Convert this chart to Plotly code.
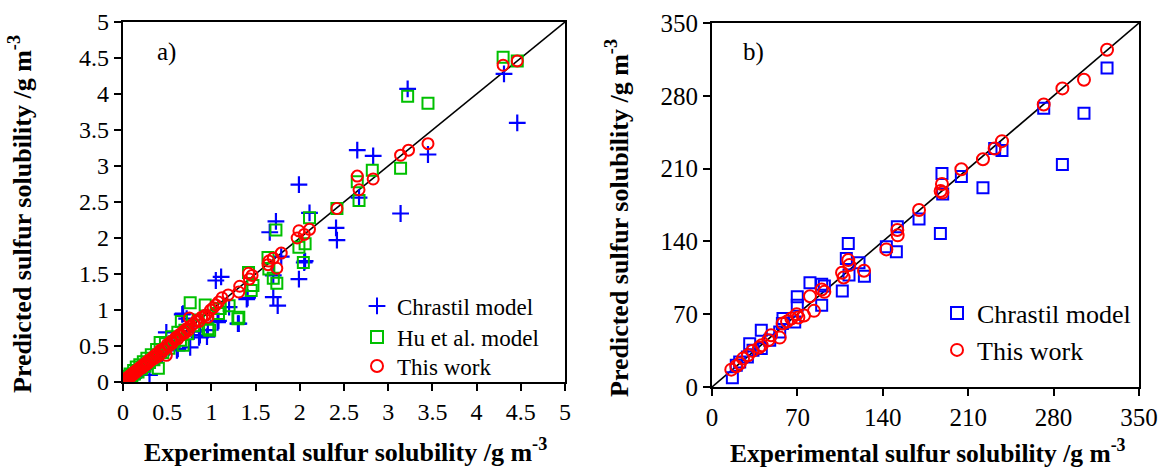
import plotly.graph_objects as go

# ---------------- Panel a) data ----------------
range_a = [0, 5]
ticks_a = [0, 0.5, 1, 1.5, 2, 2.5, 3, 3.5, 4, 4.5, 5]
ticklabels_a = ["0", "0.5", "1", "1.5", "2", "2.5", "3", "3.5", "4", "4.5", "5"]

x_ch_a = [0.02, 0.04, 0.06, 0.08, 0.10, 0.12, 0.14, 0.16, 0.18, 0.20,
          0.22, 0.25, 0.28, 0.30, 0.33, 0.36, 0.40, 0.44, 0.48, 0.49,
          0.52, 0.56, 0.61, 0.62, 0.67, 0.68, 0.72, 0.76, 0.80, 0.86,
          0.87, 0.95, 0.96, 1.05, 1.07, 1.08, 1.11, 1.20, 1.30, 1.31,
          1.40, 1.41, 1.66, 1.70, 1.70, 1.73, 1.75, 1.79, 1.99, 1.99,
          2.05, 2.06, 2.11, 2.41, 2.42, 2.65, 2.67, 2.83, 3.14, 3.22,
          3.45, 4.31, 4.46]
y_ch_a = [0.01, 0.03, 0.04, 0.06, 0.07, 0.10, 0.11, 0.13, 0.14, 0.16,
          0.18, 0.20, 0.24, 0.10, 0.28, 0.31, 0.35, 0.39, 0.45, 0.69,
          0.48, 0.55, 0.44, 0.46, 0.94, 0.95, 0.88, 0.48, 0.70, 0.62,
          0.65, 0.63, 0.72, 1.41, 0.83, 0.85, 1.46, 1.04, 0.81, 0.81,
          1.15, 1.17, 2.08, 1.18, 1.48, 2.23, 1.06, 1.74, 2.74, 1.43,
          1.66, 1.68, 2.35, 2.14, 1.97, 3.22, 2.56, 3.14, 2.34, 4.07,
          3.16, 4.28, 3.60]

x_hu_a = [0.01, 0.02, 0.04, 0.05, 0.07, 0.08, 0.10, 0.12, 0.13, 0.15,
          0.17, 0.19, 0.21, 0.23, 0.25, 0.27, 0.30, 0.32, 0.35, 0.38,
          0.40, 0.42, 0.45, 0.48, 0.52, 0.55, 0.58, 0.62, 0.65, 0.66,
          0.68, 0.70, 0.73, 0.76, 0.80, 0.85, 0.93, 0.96, 0.98, 1.08,
          1.10, 1.20, 1.30, 1.31, 1.42, 1.45, 1.47, 1.64, 1.65, 1.70,
          1.73, 1.74, 1.99, 2.04, 2.06, 2.11, 2.42, 2.65, 2.67, 2.82,
          3.14, 3.22, 3.45, 4.30, 4.46]
y_hu_a = [0.02, 0.04, 0.03, 0.08, 0.06, 0.11, 0.09, 0.16, 0.11, 0.21,
          0.14, 0.24, 0.18, 0.28, 0.22, 0.33, 0.27, 0.38, 0.31, 0.45,
          0.19, 0.55, 0.41, 0.53, 0.47, 0.63, 0.56, 0.69, 0.58, 0.84,
          0.51, 0.72, 0.67, 1.10, 0.78, 0.86, 1.07, 0.74, 0.72, 0.95,
          1.02, 1.06, 0.88, 0.90, 1.52, 1.27, 1.34, 1.73, 1.57, 1.44,
          2.11, 1.37, 1.87, 1.66, 1.92, 2.28, 2.41, 2.78, 2.52, 2.94,
          2.97, 3.97, 3.87, 4.51, 4.46]

x_tw_a = [0.01, 0.02, 0.03, 0.04, 0.05, 0.06, 0.07, 0.08, 0.09, 0.10,
          0.11, 0.12, 0.13, 0.14, 0.15, 0.16, 0.17, 0.18, 0.19, 0.20,
          0.22, 0.23, 0.25, 0.27, 0.28, 0.30, 0.32, 0.34, 0.36, 0.38,
          0.40, 0.42, 0.43, 0.45, 0.47, 0.49, 0.50, 0.52, 0.54, 0.56,
          0.58, 0.60, 0.62, 0.64, 0.66, 0.68, 0.70, 0.72, 0.74, 0.75,
          0.77, 0.80, 0.83, 0.86, 0.89, 0.92, 0.94, 0.96, 0.99, 1.02,
          1.05, 1.08, 1.12, 1.19, 1.31, 1.32, 1.42, 1.43, 1.46, 1.64,
          1.65, 1.70, 1.74, 1.79, 1.97, 1.99, 2.05, 2.11, 2.42, 2.65,
          2.67, 2.83, 3.14, 3.23, 3.45, 4.30, 4.46]
y_tw_a = [0.01, 0.03, 0.02, 0.05, 0.04, 0.07, 0.06, 0.09, 0.08, 0.11,
          0.10, 0.13, 0.12, 0.15, 0.14, 0.17, 0.16, 0.19, 0.18, 0.21,
          0.20, 0.24, 0.23, 0.28, 0.26, 0.31, 0.30, 0.35, 0.33, 0.39,
          0.36, 0.44, 0.40, 0.46, 0.45, 0.37, 0.52, 0.50, 0.56, 0.54,
          0.59, 0.62, 0.60, 0.66, 0.65, 0.70, 0.68, 0.74, 0.72, 0.89,
          0.78, 0.81, 0.85, 0.84, 0.90, 0.92, 0.93, 0.90, 1.00, 1.03,
          1.07, 1.11, 1.17, 1.21, 1.25, 1.33, 1.51, 1.43, 1.48, 1.63,
          1.68, 1.72, 1.58, 1.79, 2.00, 2.10, 2.05, 2.12, 2.41, 2.86,
          2.67, 2.82, 3.15, 3.22, 3.31, 4.40, 4.46]

# ---------------- Panel b) data ----------------
range_b = [0, 350]
ticks_b = [0, 70, 140, 210, 280, 350]
ticklabels_b = ["0", "70", "140", "210", "280", "350"]

x_ch_b = [16.7, 19.9, 22.7, 29.0, 30.9, 33.6, 40.4, 40.4, 47.3, 55.5,
          57.7, 58.2, 67.8, 69.9, 69.9, 80.3, 89.9, 89.9, 92.1, 106.8,
          110.1, 111.7, 112.3, 120.5, 124.9, 142.9, 151.1, 151.9, 169.7, 187.2,
          188.5, 189.1, 204.4, 222.1, 231.7, 237.7, 271.9, 287.2, 304.9, 323.8]
y_ch_b = [9.0, 20.9, 24.1, 28.9, 41.7, 35.3, 54.6, 36.9, 45.0, 53.0,
          61.0, 65.8, 62.6, 86.7, 78.7, 100.2, 98.9, 78.7, 97.0, 92.2,
          123.6, 138.1, 107.6, 119.5, 106.6, 134.9, 130.1, 154.1, 161.5, 147.7,
          205.2, 185.6, 202.3, 191.7, 229.3, 227.4, 268.1, 213.9, 263.3, 306.7]

x_tw_b = [15.8, 19.9, 22.7, 25.4, 29.5, 33.1, 38.5, 40.7, 46.2, 48.4,
          55.5, 57.9, 61.5, 65.0, 69.4, 70.8, 75.4, 80.3, 83.6, 89.9,
          92.1, 106.6, 107.9, 111.7, 112.6, 124.6, 142.9, 151.9, 152.2, 169.7,
          187.4, 188.5, 188.8, 204.4, 222.1, 231.7, 237.7, 271.9, 287.2, 304.9,
          323.8]
y_tw_b = [16.7, 19.9, 22.5, 27.3, 30.5, 34.7, 37.9, 40.1, 45.0, 49.8,
          47.5, 61.0, 62.9, 65.8, 70.0, 66.8, 68.7, 87.3, 73.2, 93.8,
          91.5, 109.8, 105.3, 122.0, 117.2, 111.8, 132.3, 150.9, 145.8, 170.2,
          188.5, 195.2, 186.9, 209.4, 219.0, 229.3, 236.4, 271.7, 287.1, 295.4,
          324.3]

FONT = "Liberation Serif, Times New Roman, serif"
W, H = 1162, 470

fig = go.Figure()

# Panel a
fig.add_trace(go.Scatter(x=range_a, y=range_a, mode="lines", line=dict(color="black", width=1.6),
                         showlegend=False, xaxis="x", yaxis="y", hoverinfo="skip"))
fig.add_trace(go.Scatter(x=x_ch_a, y=y_ch_a, mode="markers", name="Chrastil model",
                         marker=dict(symbol="cross-thin-open", size=12, color="#0000ff",
                                     line=dict(color="#0000ff", width=2.2)),
                         xaxis="x", yaxis="y", legend="legend"))
fig.add_trace(go.Scatter(x=x_hu_a, y=y_hu_a, mode="markers", name="Hu et al. model",
                         marker=dict(symbol="square-open", size=11, color="#00c000",
                                     line=dict(color="#00c000", width=2)),
                         xaxis="x", yaxis="y", legend="legend2"))
fig.add_trace(go.Scatter(x=x_tw_a, y=y_tw_a, mode="markers", name="This work",
                         marker=dict(symbol="circle-open", size=11, color="#ff0000",
                                     line=dict(color="#ff0000", width=2)),
                         xaxis="x", yaxis="y", legend="legend3"))

# Panel b
fig.add_trace(go.Scatter(x=range_b, y=range_b, mode="lines", line=dict(color="black", width=1.6),
                         showlegend=False, xaxis="x2", yaxis="y2", hoverinfo="skip"))
fig.add_trace(go.Scatter(x=x_ch_b, y=y_ch_b, mode="markers", name="Chrastil model",
                         marker=dict(symbol="square-open", size=11, color="#0000ff",
                                     line=dict(color="#0000ff", width=2)),
                         xaxis="x2", yaxis="y2", legend="legend4"))
fig.add_trace(go.Scatter(x=x_tw_b, y=y_tw_b, mode="markers", name="This work",
                         marker=dict(symbol="circle-open", size=12, color="#ff0000",
                                     line=dict(color="#ff0000", width=2)),
                         xaxis="x2", yaxis="y2", legend="legend5"))


def axis_style(fs):
    return dict(showline=True, linecolor="black", linewidth=2.2, mirror=True,
                ticks="outside", ticklen=7, tickwidth=2, tickcolor="black",
                showgrid=False, zeroline=False, automargin=False,
                tickfont=dict(family=FONT, size=fs, color="black"))


def px_x(p):
    return p / W


def px_y(p):
    return (H - p) / H


def legend_at(xpx, ypx, fs):
    return dict(x=px_x(xpx), y=px_y(ypx), xanchor="left", yanchor="middle",
                bgcolor="rgba(0,0,0,0)", borderwidth=0,
                font=dict(family=FONT, size=fs, color="black"),
                itemsizing="constant")


fig.update_layout(
    template="none",
    width=W, height=H,
    margin=dict(l=0, r=0, t=0, b=0, autoexpand=False),
    paper_bgcolor="white", plot_bgcolor="white",
    font=dict(family=FONT, color="black"),
    xaxis=dict(domain=[px_x(123), px_x(565)], range=range_a, tickvals=ticks_a,
               ticktext=ticklabels_a, anchor="y", **axis_style(24)),
    yaxis=dict(domain=[px_y(382), px_y(22)], range=range_a, tickvals=ticks_a,
               ticktext=ticklabels_a, anchor="x", **axis_style(24)),
    xaxis2=dict(domain=[px_x(712), px_x(1139)], range=range_b, tickvals=ticks_b,
                ticktext=ticklabels_b, anchor="y2", **axis_style(25)),
    yaxis2=dict(domain=[px_y(387), px_y(23)], range=range_b, tickvals=ticks_b,
                ticktext=ticklabels_b, anchor="x2", **axis_style(25)),
    legend=legend_at(357, 306, 23),
    legend2=legend_at(357, 337, 23),
    legend3=legend_at(357, 366, 23),
    legend4=legend_at(937, 313, 26),
    legend5=legend_at(937, 350, 26),
    showlegend=True,
)

title_font = dict(family=FONT, size=26, color="black")
annotations = [
    dict(text="a)", x=px_x(166), y=px_y(52), xref="paper", yref="paper",
         xanchor="center", yanchor="middle",
         showarrow=False, font=dict(family=FONT, size=25, color="black")),
    dict(text="b)", x=px_x(753), y=px_y(52), xref="paper", yref="paper",
         xanchor="center", yanchor="middle",
         showarrow=False, font=dict(family=FONT, size=25, color="black")),
    dict(text="<b>Experimental sulfur solubility /g m<sup>-3</sup></b>", x=px_x(345), y=px_y(450),
         xref="paper", yref="paper", xanchor="center", yanchor="middle", showarrow=False,
         font=title_font),
    dict(text="<b>Experimental sulfur solubility /g m<sup>-3</sup></b>", x=px_x(928), y=px_y(451),
         xref="paper", yref="paper", xanchor="center", yanchor="middle", showarrow=False,
         font=dict(family=FONT, size=25.5, color="black")),
    dict(text="<b>Predicted sulfur solubility /g m<sup>-3</sup></b>", x=px_x(20), y=px_y(214),
         xref="paper", yref="paper", xanchor="center", yanchor="middle", showarrow=False,
         textangle=-90, font=title_font),
    dict(text="<b>Predicted sulfur solubility /g m<sup>-3</sup></b>", x=px_x(617), y=px_y(218),
         xref="paper", yref="paper", xanchor="center", yanchor="middle", showarrow=False,
         textangle=-90, font=title_font),
]
fig.update_layout(annotations=annotations)

fig.write_html("out.html")
